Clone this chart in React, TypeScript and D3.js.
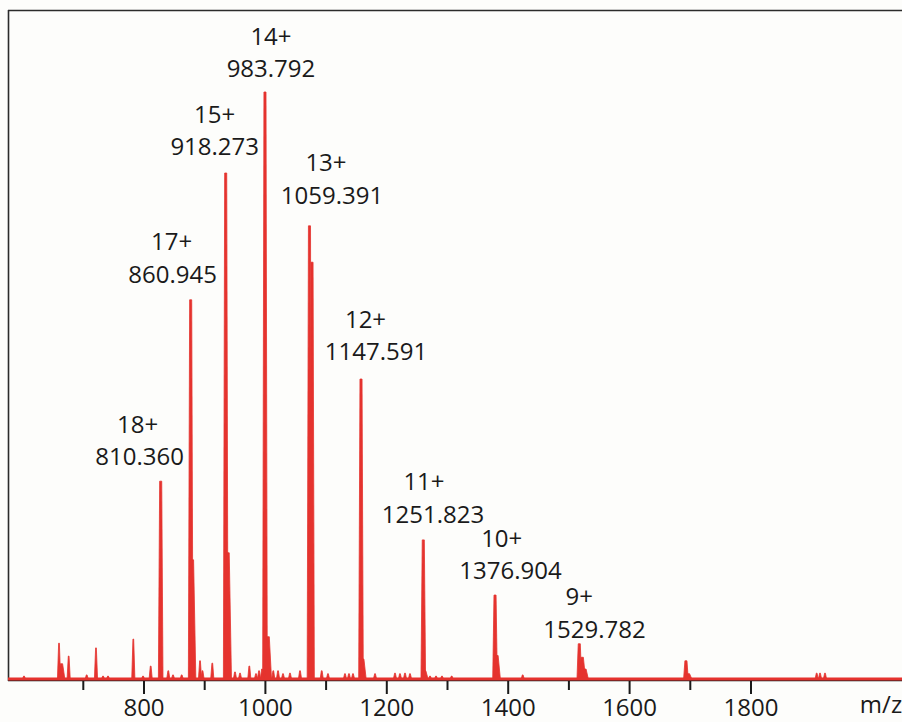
import React from "react";
import * as d3 from "d3";

// ---- data ----
const peakMz = [827.5, 876.9, 934.6, 999.3, 1072.6, 1076.8, 1157.5, 1260.1, 1378.3, 1517.1, 1692.8];
const peakIntensity = [33.7, 64.6, 86.2, 100, 77.2, 71.0, 51.1, 23.7, 14.3, 6.0, 3.1];

const shoulderMz = [879.9, 938.6, 1004.6, 1160.5, 1262.5, 1381.6, 1522.0, 1526.5, 1697.0, 664.1];
const shoulderIntensity = [20.3, 21.5, 7.2, 3.4, 1.4, 4.0, 3.7, 1.7, 0.9, 2.6];

const minorMz = [602.3, 660.0, 675.9, 705.6, 720.9, 732.5, 740.7, 782.4, 798.4, 811.0, 840.0, 847.8, 862.1,
  892.3, 896.4, 912.5, 949.9, 958.2, 973.5, 984.5, 989.5, 994.4, 1013.0, 1020.8, 1029.0, 1040.5, 1057.0,
  1092.8, 1103.1, 1131.1, 1137.7, 1144.3, 1180.6, 1213.5, 1221.7, 1230.0, 1238.2, 1271.2, 1281.1, 1290.9,
  1306.9, 1423.9, 1908.2, 1913.7, 1921.9];
const minorIntensity = [0.5, 6.1, 3.9, 0.7, 5.3, 0.5, 0.5, 6.8, 0.5, 2.2, 1.4, 0.7, 0.7,
  3.1, 1.4, 2.7, 1.2, 1.0, 2.2, 0.9, 1.4, 1.7, 1.4, 1.4, 0.9, 1.0, 1.4,
  1.4, 0.9, 0.9, 0.9, 0.9, 0.9, 1.0, 0.9, 1.0, 0.9, 0.5, 0.5, 0.5,
  0.5, 0.7, 1.0, 1.0, 1.0];

// labelled peaks: index into peakMz
const labelPeakIndex = [0, 1, 2, 3, 4, 6, 7, 8, 9];
const chargeLabels = ["18+", "17+", "15+", "14+", "13+", "12+", "11+", "10+", "9+"];
const mzLabels = ["810.360", "860.945", "918.273", "983.792", "1059.391", "1147.591", "1251.823", "1376.904", "1529.782"];

const majorTicks = [800, 1000, 1200, 1400, 1600, 1800];
const minorTicks = [700, 900, 1100, 1300, 1500, 1700];

// ---- layout ----
const W = 902;
const H = 722;
const left = 8;
const right = 902;
const top = 10;
const base = 679;
// label offsets (px) relative to peak top: [dx line1, dx line2, gap above peak]
const labelLayout = [
  [-23, -21, 16], [-19, -18, 17], [-11, -11, 18], [6, 6, 15], [16.5, 22.5, 22],
  [4.5, 15, 19], [0.7, 9.7, 17], [6.7, 15.5, 16], [0, 15.2, 6],
];

const RED = "#e5332e";
const FONT = "'Open Sans', 'Noto Sans', sans-serif";

export default function App() {
  const x = d3.scaleLinear().domain([800, 1800]).range([144, 751]);
  const y = d3.scaleLinear().domain([0, 100]).range([base, 92]);

  const line = d3.line<[number, number]>().x((d) => x(d[0])).y((d) => y(d[1]));

  const trap = (mz: number, h: number, tw: number, bw: number) =>
    line([
      [mz - bw, 0],
      [mz - tw, h],
      [mz + tw, h],
      [mz + bw, 0],
    ]) as string;

  const paths: string[] = [];
  peakMz.forEach((m, i) => paths.push(trap(m, peakIntensity[i], 1.7, 3.8)));
  shoulderMz.forEach((m, i) => paths.push(trap(m, shoulderIntensity[i], 1.8, 5.5)));
  minorMz.forEach((m, i) => paths.push(trap(m, minorIntensity[i], 0.6, 2.6)));

  return (
    <svg
      width={W}
      height={H}
      style={{ position: "absolute", left: 0, top: 0, background: "#fdfdfb" }}
    >
      <defs>
        <clipPath id="plot">
          <rect x={left} y={top} width={right - left} height={base - top + 4} />
        </clipPath>
      </defs>
      <rect x={0} y={0} width={W} height={H} fill="#fdfdfb" />
      {/* frame */}
      <line x1={left} x2={right} y1={top + 0.5} y2={top + 0.5} stroke="#2b2b2b" strokeWidth={1.6} />
      <line x1={left + 0.5} x2={left + 0.5} y1={top} y2={base + 2} stroke="#2b2b2b" strokeWidth={1.6} />
      <line x1={left} x2={right} y1={base + 1.5} y2={base + 1.5} stroke="#1a1a1a" strokeWidth={1.6} />
      {/* ticks */}
      {majorTicks.map((t) => (
        <line key={"M" + t} x1={x(t)} x2={x(t)} y1={base + 2} y2={base + 15} stroke="#1a1a1a" strokeWidth={2} />
      ))}
      {minorTicks.map((t) => (
        <line key={"m" + t} x1={x(t)} x2={x(t)} y1={base + 2} y2={base + 11} stroke="#1a1a1a" strokeWidth={2} />
      ))}
      {majorTicks.map((t) => (
        <text key={"L" + t} x={x(t)} y={716} textAnchor="middle" fontFamily={FONT} fontSize={24} fill="#1a1a1a">
          {t}
        </text>
      ))}
      <text x={881} y={713} textAnchor="middle" fontFamily={FONT} fontSize={24} fill="#1a1a1a">
        m/z
      </text>
      {/* spectrum */}
      <g clipPath="url(#plot)">
        <line x1={left} x2={right} y1={base} y2={base} stroke={RED} strokeWidth={3} />
        {paths.map((d, i) => (
          <path key={i} d={d} fill={RED} stroke={RED} strokeWidth={0.8} strokeLinejoin="round" />
        ))}
      </g>
      {/* annotations */}
      {labelPeakIndex.map((pi, i) => {
        const px = x(peakMz[pi]);
        const py = y(peakIntensity[pi]);
        const [dx1, dx2, gap] = labelLayout[i];
        const b2 = py - gap;
        return (
          <g key={"a" + i} fontFamily={FONT} fontSize={24} fill="#1a1a1a" textAnchor="middle">
            <text x={px + dx1} y={b2 - 32.5}>{chargeLabels[i]}</text>
            <text x={px + dx2} y={b2}>{mzLabels[i]}</text>
          </g>
        );
      })}
    </svg>
  );
}
